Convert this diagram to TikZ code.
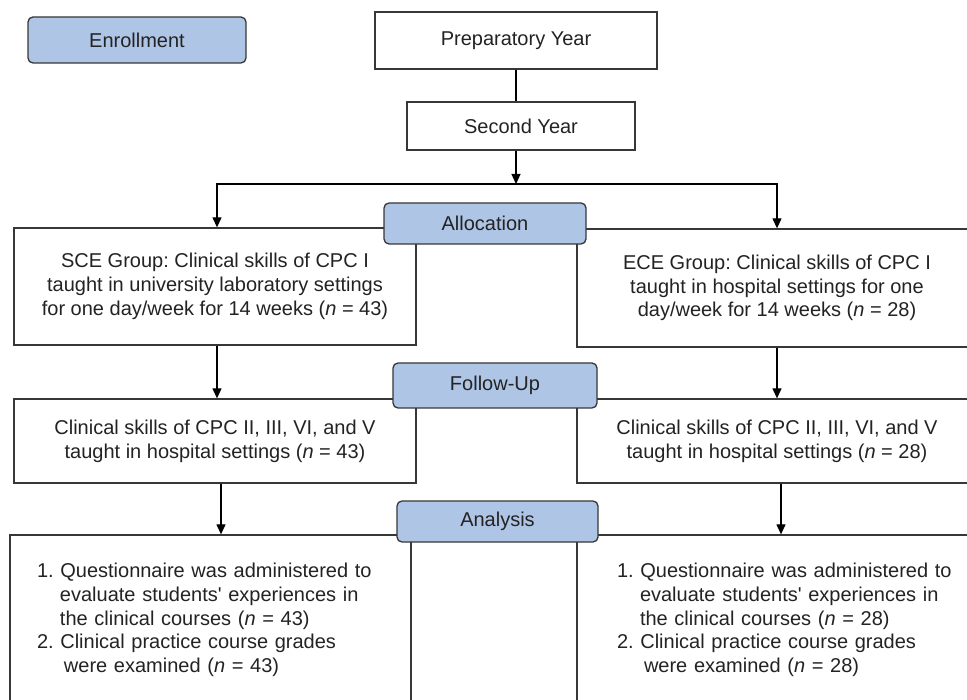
\documentclass[tikz,border=0pt]{standalone}
\usepackage{fontspec}
\setmainfont{Liberation Sans}
\usetikzlibrary{arrows.meta,calc}
\definecolor{bluefill}{RGB}{175,197,229}
\definecolor{txt}{RGB}{35,35,35}
\definecolor{edge}{RGB}{55,55,55}
\frenchspacing
\begin{document}
\begin{tikzpicture}[x=1pt,y=-1pt,
  every node/.style={font=\fontsize{20}{23.8}\selectfont\frenchspacing, text=txt},
  box/.style={draw=edge, line width=1.3pt, fill=white, inner sep=0pt, align=center},
  phase/.style={draw=edge, line width=1.3pt, fill=bluefill, rounded corners=5pt, inner sep=0pt},
  conn/.style={draw=black, line width=1.2pt},
  arr/.style={conn, -{Triangle[width=9pt,length=10pt]}}]
\useasboundingbox (0,0) rectangle (967,700);
\clip (0,0) rectangle (967,700);

% white boxes
\node[box, minimum width=282pt, minimum height=57pt] (prep) at (516,40.5) {Preparatory Year};
\node[box, minimum width=228pt, minimum height=48pt] (second) at (521,126) {Second Year};
\node[box, minimum width=402pt, minimum height=117pt] (sce) at (215,286.5)
  {SCE Group: Clinical skills of CPC I\\taught in university laboratory settings\\for one day/week for 14 weeks (\textit{n} = 43)};
\node[box, minimum width=400pt, minimum height=118pt] (ece) at (777,288)
  {ECE Group: Clinical skills of CPC I\\taught in hospital settings for one\\day/week for 14 weeks (\textit{n} = 28)};
\node[box, minimum width=402pt, minimum height=84pt] (cpcl) at (215,441)
  {Clinical skills of CPC II, III, VI, and V\\taught in hospital settings (\textit{n} = 43)};
\node[box, minimum width=400pt, minimum height=84pt] (cpcr) at (777,441)
  {Clinical skills of CPC II, III, VI, and V\\taught in hospital settings (\textit{n} = 28)};
\node[box, minimum height=170pt, inner xsep=27pt, text width=347pt, align=left] (anl) at (210.5,620)
  {1. Questionnaire was administered to\\\hspace*{23pt}evaluate students\textquotesingle{} experiences in\\\hspace*{23pt}the clinical courses (\textit{n} = 43)\\2. Clinical practice course grades\\\hspace*{27pt}were examined (\textit{n} = 43)};
\node[box, minimum height=170pt, inner xsep=40pt, text width=350pt, align=left] (anr) at (792,620)
  {1. Questionnaire was administered to\\\hspace*{23pt}evaluate students\textquotesingle{} experiences in\\\hspace*{23pt}the clinical courses (\textit{n} = 28)\\2. Clinical practice course grades\\\hspace*{27pt}were examined (\textit{n} = 28)};

% connectors
\coordinate (split) at (516,184);
\draw[conn] (prep.south) -- (prep.south |- second.north);
\draw[arr] (split |- second.south) -- (split);
\draw[arr] (split) -| ([xshift=2pt]sce.north);
\draw[arr] (split) -| (ece.north);
\draw[arr] ([xshift=2pt]sce.south) -- ([xshift=2pt]sce.south |- cpcl.north);
\draw[arr] (ece.south) -- (ece.south |- cpcr.north);
\draw[arr] ([xshift=6pt]cpcl.south) -- ([xshift=6pt]cpcl.south |- anl.north);
\draw[arr] (cpcr.south -| 781,0) -- (anr.north -| 781,0);

% phase labels
\node[phase, minimum width=218pt, minimum height=46pt] (enroll) at (137,40) {Enrollment};
\node[phase, minimum width=202pt, minimum height=41pt] (alloc) at (485,223.5) {Allocation};
\node[phase, minimum width=204pt, minimum height=45pt] (follow) at (495,385.5) {Follow-Up};
\node[phase, minimum width=201pt, minimum height=41pt] (analysis) at (497.5,521.5) {Analysis};
\end{tikzpicture}
\end{document}
